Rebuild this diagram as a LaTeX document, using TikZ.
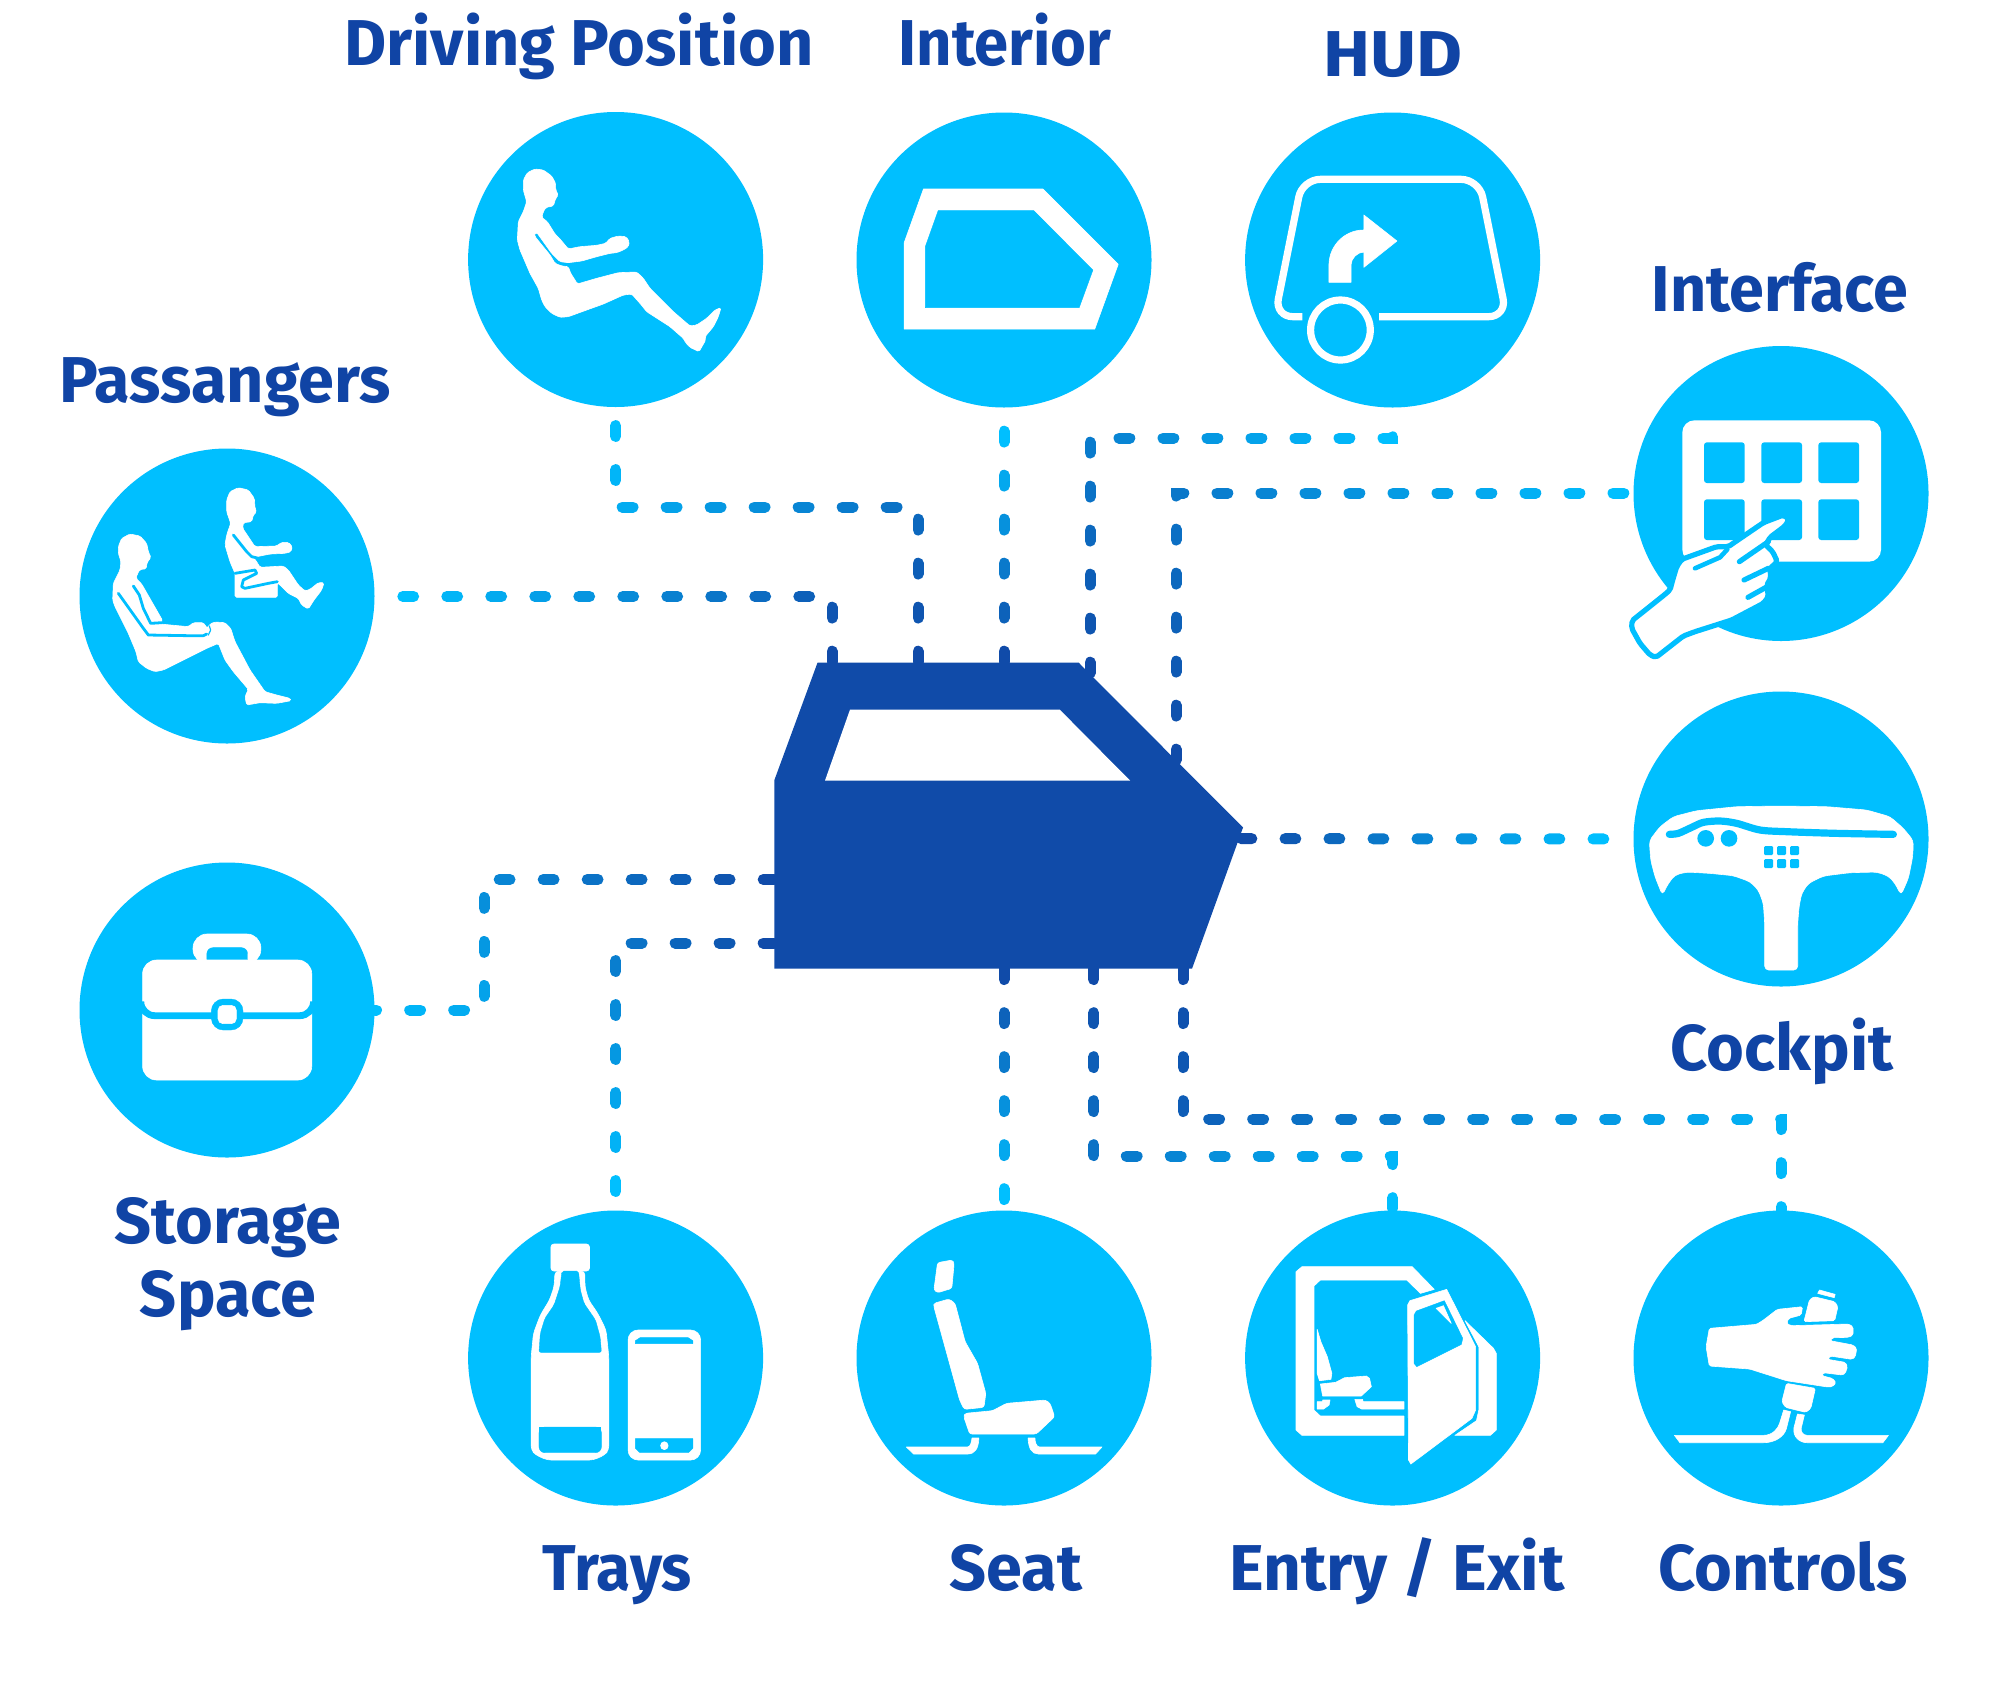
\documentclass[tikz,border=0pt]{standalone}
\usepackage{fontspec}
\setmainfont{Fira Sans}
\definecolor{dk}{HTML}{104BA9}
\definecolor{lt}{HTML}{00BFFF}
\definecolor{txt}{HTML}{1044A5}
\pgfdeclarelayer{bg}
\pgfsetlayers{bg,main}
\tikzset{
  disc/.style={circle,fill=lt,draw=none,minimum size=147.5pt,inner sep=0pt},
  lab/.style={anchor=base,text=txt,font=\fontsize{32.4}{32.4}\selectfont\bfseries,inner sep=0pt},
  ink/.style={fill=white,draw=white,line width=.3pt,line join=round},
  soft/.style={ink,rounded corners=1.2pt},
  ink0/.style={fill=lt,draw=lt,line width=.2pt,line join=round},
  slit/.style={draw=lt,line width=#1,line cap=round,line join=round},
  slit/.default=1.4pt,
  zA/.style 2 args={shift={(#1*0.5pt,-#2*0.5pt)},x=.16667pt,y=-.16667pt},
  zB/.style 2 args={shift={(#1*0.5pt,-#2*0.5pt)},x=.2296pt,y=-.16667pt},
  zC/.style 2 args={shift={(#1*0.5pt,-#2*0.5pt)},x=.2232pt,y=-.16667pt},
}
\newcommand\gconn[2]{%
  \foreach \k in {0,...,#2}{%
    \pgfmathsetmacro\tn{100*\k/#2}%
    \pgfmathsetmacro\ph{4000-\k*22}%
    \draw[lt!\tn!dk,line width=5.5pt,line cap=round,dash pattern=on 5.4pt off 3994.6pt,dash phase=\ph pt] #1;
  }}
\begin{document}
\begin{tikzpicture}[x=.5pt,y=-.5pt]
\useasboundingbox (0,0) rectangle (2000,1692);
\begin{pgfonlayer}{bg}
\fill[white] (0,0) rectangle (2000,1692);
\end{pgfonlayer}
% discs
\node[disc] (driving) at (615.6,259.5) {};
\node[disc] (interior) at (1004,260) {};
\node[disc] (hud) at (1392.6,260) {};
\node[disc] (interface) at (1781,493.5) {};
\node[disc] (passengers) at (227,596) {};
\node[disc] (cockpit) at (1781,839) {};
\node[disc] (storage) at (227,1010) {};
\node[disc] (trays) at (615.6,1358) {};
\node[disc] (seat) at (1004,1358) {};
\node[disc] (entry) at (1392.6,1358) {};
\node[disc] (controls) at (1781,1358) {};
% door
\coordinate (dA) at (817.5,662.7);
\coordinate (dB) at (1078.7,662.7);
\coordinate (dC) at (1243,827.5);
\coordinate (dD) at (1192,968.7);
\coordinate (dE) at (774.4,968.7);
\coordinate (dF) at (774.4,780);
\fill[dk] (dA)--(dB)--(dC)--(dD)--(dE)--(dF)--cycle;
\fill[white] (850,709.6)--(1059.7,709.6)--(1130,780.5)--(825,780.5)--cycle;
% connector ends on door and elbows
\coordinate (sPass) at (832,662);
\coordinate (sDriv) at (918,662);
\coordinate (sInte) at (1004,662);
\coordinate (sHud) at (1090,673);
\coordinate (sIfc) at (1176,760);
\coordinate (sCock) at (1241,838.6);
\coordinate (sSeat) at (1004,968.7);
\coordinate (sEntry) at (1093.6,968.7);
\coordinate (sCtrl) at (1183,968.7);
\coordinate (sStor) at (774,879.5);
\coordinate (sTray) at (774,943);
\coordinate (ePass) at (832,596.4);
\coordinate (eDriv1) at (918,507);
\coordinate (eDriv2) at (615.6,507);
\coordinate (eHud1) at (1090,438);
\coordinate (eHud2) at (1392.6,438);
\coordinate (eIfc) at (1176,493);
\coordinate (eEntry1) at (1093.6,1156);
\coordinate (eEntry2) at (1392.6,1156);
\coordinate (eCtrl1) at (1183,1119);
\coordinate (eCtrl2) at (1781,1119);
\coordinate (eStor1) at (484,879.5);
\coordinate (eStor2) at (484,1010);
\coordinate (eTray) at (615.6,943);
\begin{pgfonlayer}{bg}
\gconn{(sPass)--(ePass)--(passengers.east |- ePass)}{11}
\gconn{(sDriv)--(eDriv1)--(eDriv2)--(driving.south)}{12}
\gconn{(sInte)--(interior.south)}{5}
\gconn{(sHud)--(eHud1)--(eHud2)--(hud.south)}{12}
\gconn{(sIfc)--(eIfc)--(interface.west |- eIfc)}{16}
\gconn{(sCock)--(cockpit.west)}{8}
\gconn{(sSeat)--(seat.north)}{5}
\gconn{(sEntry)--(eEntry1)--(eEntry2)--(entry.north)}{12}
\gconn{(sCtrl)--(eCtrl1)--(eCtrl2)--(controls.north)}{19}
\gconn{(sStor)--(eStor1)--(eStor2)--(storage.east)}{12}
\gconn{(sTray)--(eTray)--(trays.north)}{9}
\end{pgfonlayer}
% driver
\begin{scope}[zA={440}{100}]
\path[soft,rounded corners=.8pt] (250,240)--(262,218)--(285,207)--(310,210)--(335,228)--(347,250)--(347,270)--(355,285)--(347,295)--(340,318)--(318,322)--(310,335)--(305,352)--(322,365)--(345,402)--(360,417)--(385,447)--(420,440)--(470,436)--(497,430)--(510,415)--(535,408)--(558,410)--(568,425)--(565,440)--(550,450)--(530,458)--(510,460)--(470,470)--(425,483)--(385,488)--(360,485)--(345,470)--(335,460)--(290,397)--(283,400)--(285,410)--(330,465)--(345,490)--(365,498)--(385,500)--(392,520)--(405,540)--(412,552)--(470,535)--(535,518)--(590,516)--(610,535)--(630,565)--(700,635)--(750,678)--(770,675)--(800,655)--(825,630)--(843,623)--(835,650)--(820,680)--(795,710)--(797,720)--(777,755)--(750,742)--(737,728)--(730,715)--(690,680)--(620,635)--(600,610)--(575,582)--(550,585)--(490,612)--(440,630)--(385,650)--(360,652)--(335,640)--(315,620)--(305,600)--(295,565)--(270,520)--(240,450)--(232,420)--(235,365)--(250,335)--(260,305)--(250,270)--cycle;
\end{scope}
% passengers
\begin{scope}[zA={60}{430}]
\path[soft,rounded corners=.8pt] (175,350)--(185,325)--(210,312)--(240,318)--(260,340)--(265,365)--(273,383)--(262,395)--(258,417)--(240,418)--(232,432)--(228,445)--(245,462)--(308,572)--(300,582)--(385,590)--(400,578)--(430,578)--(442,595)--(450,582)--(465,576)--(495,578)--(512,595)--(525,635)--(570,720)--(615,785)--(650,795)--(690,805)--(693,812)--(650,820)--(600,818)--(560,825)--(555,800)--(565,778)--(520,725)--(495,690)--(475,640)--(440,655)--(310,720)--(285,725)--(260,715)--(235,695)--(228,665)--(205,610)--(165,530)--(158,510)--(160,460)--(180,420)--(183,395)--(175,370)--cycle;
\draw[slit=1.4pt] (175,490)--(250,595)--(265,615)--(385,617)--(430,617)--(440,612);
\draw[slit=1.4pt] (220,468)--(238,495)--(250,535)--(272,580)--(305,578);
\draw[slit=.6pt] (448,588)--(452,600)--(445,615);
\path[soft,rounded corners=.8pt] (500,210)--(510,185)--(535,173)--(565,180)--(583,205)--(585,235)--(590,245)--(580,255)--(575,275)--(550,278)--(548,295)--(565,320)--(585,350)--(650,348)--(665,337)--(685,337)--(697,350)--(693,365)--(675,370)--(630,372)--(580,382)--(590,395)--(600,412)--(670,408)--(685,420)--(715,465)--(735,483)--(750,478)--(775,458)--(792,458)--(785,480)--(762,510)--(745,537)--(725,525)--(715,505)--(685,490)--(660,465)--(652,458)--(652,502)--(525,502)--(525,430)--(510,395)--(495,345)--(500,315)--(512,280)--(500,245)--cycle;
\draw[slit=1.4pt] (520,315)--(560,365)--(575,380)--(592,384);
\draw[slit=1.4pt] (525,430)--(585,420)--(590,430)--(550,450)--(545,470)--(555,475)--(625,460)--(652,455);
\end{scope}
% interface
\begin{scope}[zA={1600}{340}]
\fill[white,rounded corners=6pt] (247,241) rectangle (843,665);
\foreach \a in {312,484,655}\foreach \b in {307,478}{
  \fill[lt,rounded corners=1.4pt] (\a,\b) rectangle ++(122,122);}
\end{scope}
\begin{scope}[zA={1620}{500}]
\path[fill=white,draw=lt,line width=2.6pt,line join=round,rounded corners=1pt] (36,362)--(130,287)--(150,270)--(158,240)--(170,200)--(185,178)--(290,140)--(325,140)--(342,128)--(430,68)--(490,45)--(507,58)--(495,78)--(450,112)--(437,135)--(458,155)--(472,185)--(450,205)--(452,235)--(440,255)--(445,290)--(430,310)--(335,360)--(225,395)--(190,408)--(108,472)--(90,465)--(60,430)--(35,385)--cycle;
\draw[slit=2.3pt] (225,205)--(300,172)--(322,148);
\draw[slit=2.6pt] (358,185)--(445,125);
\draw[slit=2.6pt] (372,240)--(445,205);
\draw[slit=2.6pt] (384,292)--(445,258);
\end{scope}
% cockpit
\begin{scope}[zA={1620}{690}]
\path[ink,rounded corners=2pt] (88,452)--(120,410)--(160,380)--(230,362)--(350,350)--(480,348)--(620,350)--(740,360)--(810,380)--(850,415)--(880,452)--(878,500)--(865,565)--(843,615)--(825,580)--(805,558)--(770,546)--(690,548)--(610,558)--(565,580)--(545,610)--(537,650)--(533,700)--(533,840)--(434,840)--(434,700)--(430,640)--(415,600)--(390,575)--(340,557)--(270,550)--(200,546)--(165,555)--(145,580)--(127,615)--(105,560)--(92,510)--cycle;
\draw[lt,line width=3.6pt,line cap=round,line join=round] plot[smooth,tension=.5] coordinates {(148,433)(175,430)(215,412)(250,397)(300,393)(350,400)(420,420)(500,425)(650,430)(820,433)};
\fill[lt] (257,445) circle[radius=25];
\fill[lt] (327,445) circle[radius=25];
\foreach \a in {432,471,510}\foreach \b in {468,507}{
  \fill[lt,rounded corners=.6pt] (\a,\b) rectangle ++(27,27);}
\end{scope}
% trays
\begin{scope}[zB={460}{1210}]
\path[ink,rounded corners=1.5pt] (198,102) rectangle (282,183);
\path[ink,rounded corners=2pt] (207,183)--(205,230)--(195,270)--(175,315)--(160,370)--(155,440)--(155,720)--(165,735)--(190,750)--(290,750)--(315,735)--(324,720)--(324,440)--(318,360)--(300,310)--(280,270)--(272,230)--(272,183)--cycle;
\path[ink0,rounded corners=1pt] (222,183)--(258,183)--(262,240)--(270,280)--(295,330)--(305,380)--(308,427)--(172,427)--(175,370)--(185,325)--(205,285)--(218,230)--cycle;
\path[ink0,rounded corners=3pt] (172,651)--(308,651)--(308,728)--(172,728)--cycle;
\fill[lt] (172,651) rectangle (308,670);
\path[ink,rounded corners=5pt] (366,360) rectangle (524,750);
\path[ink0] (382,401)--(507,401)--(507,392)--(497,383)--(392,383)--(382,392)--cycle;
\path[ink0] (382,686)--(507,686)--(507,715)--(497,728)--(392,728)--(382,715)--cycle;
\fill[white] (445,707) ellipse[x radius=9,y radius=13];
\end{scope}
% seat
\begin{scope}[zB={460}{1210}]
\path[soft] (1040,158)--(1072,150)--(1076,160)--(1071,235)--(1040,248)--(1032,240)--cycle;
\path[soft] (1032,280)--(1065,267)--(1078,280)--(1100,395)--(1127,460)--(1145,550)--(1141,592)--(1098,598)--(1088,570)--(1032,290)--cycle;
\path[soft] (1100,610)--(1160,602)--(1190,580)--(1275,570)--(1285,580)--(1295,620)--(1255,672)--(1110,672)--(1097,620)--cycle;
\path[ink] (972,711)--(1105,711) .. controls (1112,711) and (1114,695) .. (1115,684)--(1130,684) .. controls (1129,715) and (1122,732) .. (1105,732)--(988,732)--cycle;
\path[ink] (1398,711)--(1262,711) .. controls (1255,711) and (1252,695) .. (1252,684)--(1237,684) .. controls (1238,715) and (1245,732) .. (1260,732)--(1384,732)--cycle;
\end{scope}
% entry
\begin{scope}[zB={1240}{1210}]
\path[ink] (122,185)--(135,170)--(375,170)--(423,238)--(393,250)--(363,210)--(175,210)--(161,228)--(161,600)--(175,618)--(357,618)--(357,676)--(135,676)--(122,660)--cycle;
\path[ink] (490,332)--(552,415)--(558,430)--(558,660)--(545,676)--(468,676)--(515,632)--(520,600)--(520,410)--cycle;
\path[ink] (365,285)--(370,272)--(450,238)--(513,410)--(513,600)--(505,625)--(372,762)--(367,750)--cycle;
\path[ink0] (379,315)--(384,303)--(445,272)--(485,385)--(482,403)--(385,470)--(379,460)--cycle;
\path[ink] (427,295)--(443,287)--(460,340)--cycle;
\path[ink] (168,358)--(176,395)--(190,440)--(200,490)--(198,508)--(173,512)--(168,490)--cycle;
\path[ink] (175,522)--(208,517)--(228,503)--(275,498)--(282,505)--(286,530)--(264,558)--(180,558)--cycle;
\path[ink] (168,575)--(180,575)--(180,570)--(196,570)--(194,585)--(182,597)--(168,597)--cycle;
\path[ink] (250,568)--(267,568)--(268,575)--(357,575)--(357,597)--(265,597)--(255,590)--cycle;
\end{scope}
% controls
\begin{scope}[zB={1240}{1210}]
\path[soft,rounded corners=.8pt] (1022,355)--(1125,343)--(1140,330)--(1170,298)--(1225,290)--(1222,315)--(1195,325)--(1190,340)--(1200,347)--(1325,342)--(1335,350)--(1335,375)--(1325,382)--(1290,383)--(1285,392)--(1335,405)--(1343,415)--(1340,440)--(1333,448)--(1285,438)--(1280,448)--(1318,457)--(1323,470)--(1318,490)--(1312,495)--(1270,488)--(1267,497)--(1290,505)--(1298,518)--(1290,530)--(1280,531)--(1190,512)--(1110,477)--(1022,468)--(1015,410)--cycle;
\path[soft,rounded corners=.8pt] (1240,270)--(1250,260)--(1295,275)--(1302,290)--(1295,332)--(1228,335)--cycle;
\path[ink] (1258,250)--(1262,240)--(1296,253)--(1294,263)--cycle;
\path[soft,rounded corners=.8pt] (1190,520)--(1253,535)--(1243,595)--(1232,607)--(1188,592)--(1180,575)--cycle;
\path[ink] (946,676)--(1140,676) .. controls (1160,676) and (1172,655) .. (1175,640)--(1184,600)--(1199,605)--(1190,655) .. controls (1185,680) and (1165,698) .. (1140,698)--(958,698)--cycle;
\path[ink] (1412,676)--(1235,676) .. controls (1226,676) and (1221,665) .. (1222,655)--(1229,615)--(1214,612)--(1206,655) .. controls (1204,680) and (1218,698) .. (1235,698)--(1400,698)--cycle;
\end{scope}
% storage
\begin{scope}[zC={60}{850}]
\path[ink,rounded corners=7pt] (298,340)--(298,252)--(450,252)--(450,340)--cycle;
\path[ink0,rounded corners=3pt] (329,345)--(329,293)--(420,293)--(420,345)--cycle;
\path[ink,rounded corners=7pt] (185,330) rectangle (564,690);
\draw[lt,line width=3.4pt,rounded corners=7pt] (181,462)--(181,497)--(568,497)--(568,462);
\path[ink0,rounded corners=6pt] (339,447) rectangle (410,540);
\path[ink,rounded corners=2.5pt] (354,466) rectangle (395,521);
\end{scope}
% interior
\begin{scope}[zB={850}{100}]
\path[ink] (160,267)--(420,267)--(584,493)--(533,687)--(118,687)--(118,428)--cycle;
\path[ink0] (192,332)--(400,332)--(529,510)--(499,623)--(164,623)--(164,440)--cycle;
\end{scope}
% hud
\begin{scope}[zB={850}{100}]
\draw[white,line width=3.6pt,rounded corners=9pt] (985,650)--(925,650)--(985,238)--(1370,238)--(1430,650)--(1152,650);
\draw[white,line width=3.6pt] (1068,690) ellipse[x radius=65,y radius=90];
\path[ink] (1043,547)--(1091,547)--(1091,495) .. controls (1091,475) and (1105,456) .. (1119,456)--(1119,502)--(1191,423)--(1119,345)--(1119,390) .. controls (1075,390) and (1043,440) .. (1043,495)--cycle;
\end{scope}
% labels
\node[lab] (tDriv) at (579,65) {Driving Position};
\node[lab] (tInt) at (1005,65) {\scalebox{.95}[1]{Interior}};
\node[lab] (tHud) at (1393,76) {\scalebox{1.09}[1]{HUD}};
\node[lab] (tIfc) at (1780,311) {\scalebox{.97}[1]{Interface}};
\node[lab] (tPass) at (225,402) {Passangers};
\node[lab] (tCock) at (1782,1070) {Cockpit};
\node[lab] (tSto1) at (228,1243) {\scalebox{1}[1]{Storage}};
\node[lab] (tSto2) at (228,1316) {Space};
\node[lab] (tTray) at (617,1590) {\scalebox{.96}[1]{Trays}};
\node[lab] (tSeat) at (1016,1590) {Seat};
\node[lab] (tEntry) at (1397,1590) {\scalebox{1.015}[1]{Entry / Exit}};
\node[lab] (tCtrl) at (1783,1590) {Controls};
\end{tikzpicture}
\end{document}
